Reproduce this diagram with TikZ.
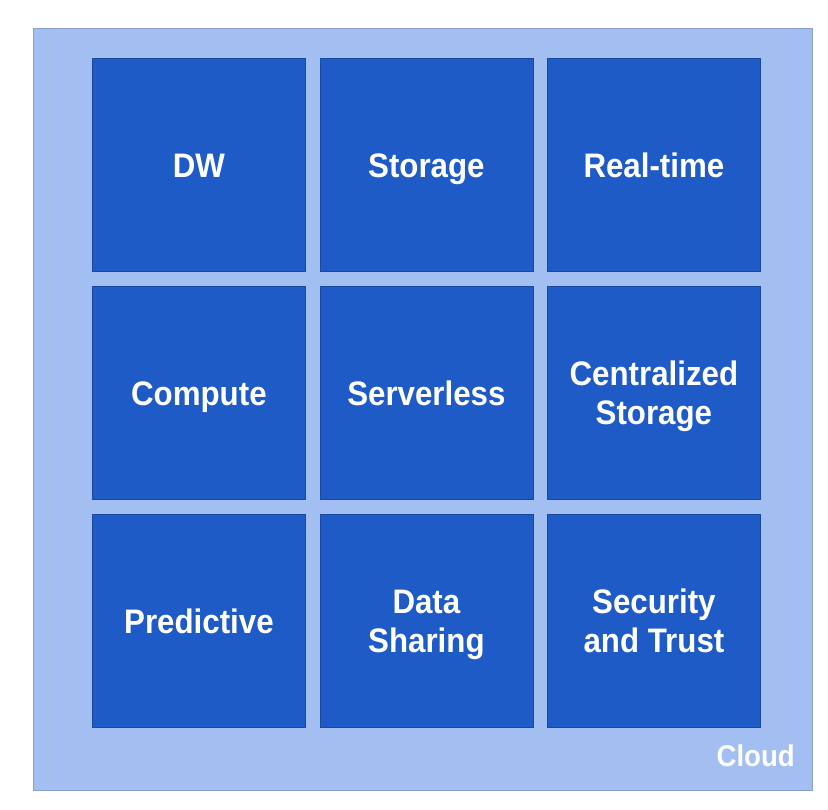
\documentclass[tikz,border=0pt]{standalone}
\usepackage{fontspec}
\setmainfont{Liberation Sans}[FakeStretch=0.92]
\definecolor{cloudbg}{HTML}{A3BEF0}
\definecolor{tileblue}{HTML}{1F5BC7}
\tikzset{
  tile/.style={fill=tileblue, draw=tileblue!80!black, line width=0.8pt, minimum width=213pt, minimum height=213pt, inner sep=0pt, anchor=north west, text=white, font=\fontsize{34}{39}\selectfont\bfseries, align=center, text height=24.5pt, text depth=0pt},
  twoline/.style={text height=63.5pt, text depth=0pt},
  cloudlabel/.style={text=white, font=\fontsize{30}{34}\selectfont\bfseries, anchor=base east, inner sep=0pt}
}
\begin{document}
\begin{tikzpicture}[x=1pt,y=-1pt]
\useasboundingbox (0,0) rectangle (828,810);
\fill[white] (0,0) rectangle (828,810);
\node[fill=cloudbg, draw=cloudbg!85!black, line width=0.5pt, minimum width=779pt, minimum height=762pt, inner sep=0pt, anchor=north west] (cloud) at (32.5,28) {};
\node[tile] (dw) at (92,58) {DW};
\node[tile] (storage) at (319.5,58) {Storage};
\node[tile] (realtime) at (547,58) {Real-time};
\node[tile] (compute) at (92,286) {Compute};
\node[tile] (serverless) at (319.5,286) {Serverless};
\node[tile,twoline] (central) at (547,286) {Centralized\\Storage};
\node[tile] (predictive) at (92,514) {Predictive};
\node[tile,twoline] (sharing) at (319.5,514) {Data\\Sharing};
\node[tile,twoline] (security) at (547,514) {Security\\and Trust};
\node[cloudlabel] (cloudtext) at (795,766) {Cloud};
\end{tikzpicture}
\end{document}
